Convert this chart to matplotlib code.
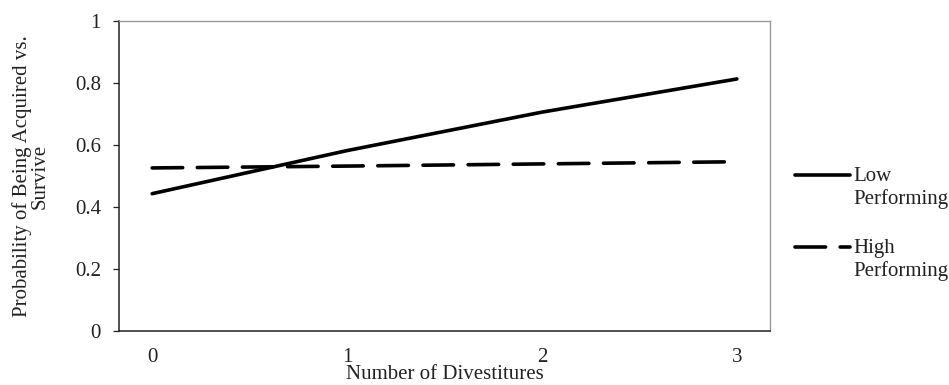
import matplotlib
matplotlib.use('Agg')
from matplotlib import pyplot as plt
from matplotlib.lines import Line2D

plt.rcParams['font.family'] = ['Liberation Serif', 'DejaVu Serif']
plt.rcParams['lines.scale_dashes'] = False

# data
divestitures = [0, 1, 2, 3]
low_perf = [0.443, 0.582, 0.706, 0.813]
high_perf = [0.526, 0.532, 0.539, 0.546]
y_ticks = [0, 0.2, 0.4, 0.6, 0.8, 1]
y_tick_labels = ['0', '0.2', '0.4', '0.6', '0.8', '1']
series_names = ['Low\nPerforming', 'High\nPerforming']

fs = 15

fig = plt.figure(figsize=(9.49, 3.85), dpi=100)
ax = fig.add_axes([119 / 949, 1 - 331 / 385, (770 - 119) / 949, (331 - 21) / 385])

dash = (22, 10.5)
ax.plot(divestitures, low_perf, color='black', linewidth=2.6, solid_capstyle='round')
ax.plot(divestitures, high_perf, color='black', linewidth=2.6, linestyle=(0, dash),
        dash_capstyle='round')

ax.set_xlim(-0.17, 3.17)
ax.set_ylim(0, 1)
ax.set_xticks(divestitures)
ax.set_xticklabels([str(d) for d in divestitures])
ax.set_yticks(y_ticks)
ax.set_yticklabels(y_tick_labels)
ax.tick_params(axis='x', length=0, pad=12, labelsize=fs, colors='#222222')
ax.tick_params(axis='y', length=4, width=0.9, pad=9, labelsize=fs, colors='#222222')

for side in ['left', 'bottom']:
    ax.spines[side].set_color('#222222')
    ax.spines[side].set_linewidth(1.1)
for side in ['top', 'right']:
    ax.spines[side].set_color('#999999')
    ax.spines[side].set_linewidth(1.0)

ax.set_xlabel('Number of Divestitures', fontsize=fs, labelpad=-1, color='#222222')
ax.set_ylabel('Probability of Being Acquired vs.\nSurvive', fontsize=fs,
              linespacing=0.88, labelpad=18, color='#222222')

# legend drawn to the right, handle level with first text line
legend_rows = [(175, '-'), (247, '--')]
for (row_y, ls), name in zip(legend_rows, series_names):
    yf = 1 - row_y / 385
    if ls == '-':
        handle = Line2D([795 / 949, 850 / 949], [yf, yf], transform=fig.transFigure,
                        color='black', linewidth=2.6, solid_capstyle='round')
    else:
        handle = Line2D([795 / 949, 850 / 949], [yf, yf], transform=fig.transFigure,
                        color='black', linewidth=2.6, linestyle=(0, (22, 10.5)),
                        dash_capstyle='round')
    fig.add_artist(handle)
    fig.text(853 / 949, 1 - (row_y - 8) / 385, name, fontsize=fs, va='top',
             ha='left', linespacing=1.2, color='#222222')

fig.savefig('out.png', dpi=100)
